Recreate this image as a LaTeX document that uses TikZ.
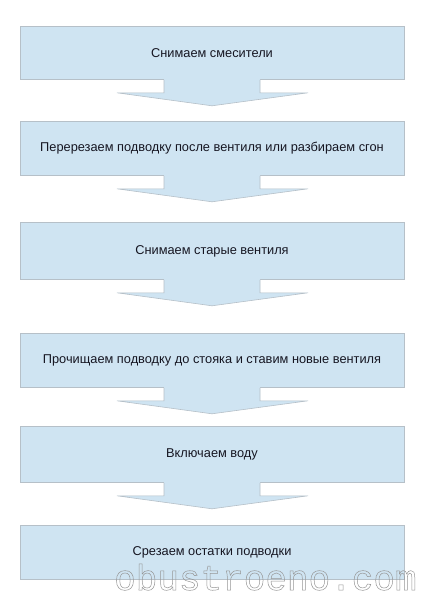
\documentclass[tikz,border=0pt]{standalone}
\usepackage{fontspec}
\setmainfont{Liberation Sans}
\newfontfamily\wmfont{Liberation Mono}
\usetikzlibrary{calc}
\definecolor{boxfill}{RGB}{207,228,242}
\definecolor{boxline}{RGB}{182,192,200}
\definecolor{txt}{RGB}{22,22,34}
\definecolor{wm}{RGB}{150,150,150}
\tikzset{
  x=1pt, y=-1pt,
  stepbox/.style={draw=boxline, fill=boxfill, line width=0.8pt, minimum width=384pt,
    inner sep=0pt, text=txt, font=\fontsize{12.8}{15}\selectfont, anchor=north},
}
\newcommand{\flowarrow}[2]{%
  \fill[boxfill] ($(#1.south)+(-48,-1.2)$) -- ++(0,14.2) -- ++(-47,0) -- ($(#1.south)+(0,26)$)
    -- ($(#1.south)+(96,13)$) -- ($(#1.south)+(48,13)$) -- ($(#1.south)+(48,-1.2)$) -- cycle;
  \draw[boxline, line width=0.6pt] ($(#1.south)+(-48,0)$) -- ++(0,13) -- ++(-47,0) -- ($(#1.south)+(0,26)$)
    -- ($(#1.south)+(96,13)$) -- ($(#1.south)+(48,13)$) -- ($(#1.south)+(48,0)$);
}
\begin{document}
\begin{tikzpicture}
\useasboundingbox (0,0) rectangle (424,600);
\fill[white] (0,0) rectangle (424,600);
\node[stepbox, minimum height=53pt] (b1) at (212,26) {Снимаем смесители};
\node[stepbox, minimum height=54pt] (b2) at (212,121) {Перерезаем подводку после вентиля или разбираем сгон};
\node[stepbox, minimum height=57pt] (b3) at (212,222) {Снимаем старые вентиля};
\node[stepbox, minimum height=54pt] (b4) at (212,333) {Прочищаем подводку до стояка и ставим новые вентиля};
\node[stepbox, minimum height=56pt] (b5) at (212,426) {Включаем воду};
\node[stepbox, minimum height=54pt] (b6) at (212,525) {Срезаем остатки подводки};
\flowarrow{b1}{b2}
\flowarrow{b2}{b3}
\flowarrow{b3}{b4}
\flowarrow{b4}{b5}
\flowarrow{b5}{b6}
\node[anchor=base west, inner sep=0pt, text=wm, font=\wmfont\fontsize{36}{40}\selectfont] (wm) at (114,590)
  {\special{pdf:literal direct 1 Tr 0.5 w}obustroeno.com\special{pdf:literal direct 0 Tr}};
\end{tikzpicture}
\end{document}
